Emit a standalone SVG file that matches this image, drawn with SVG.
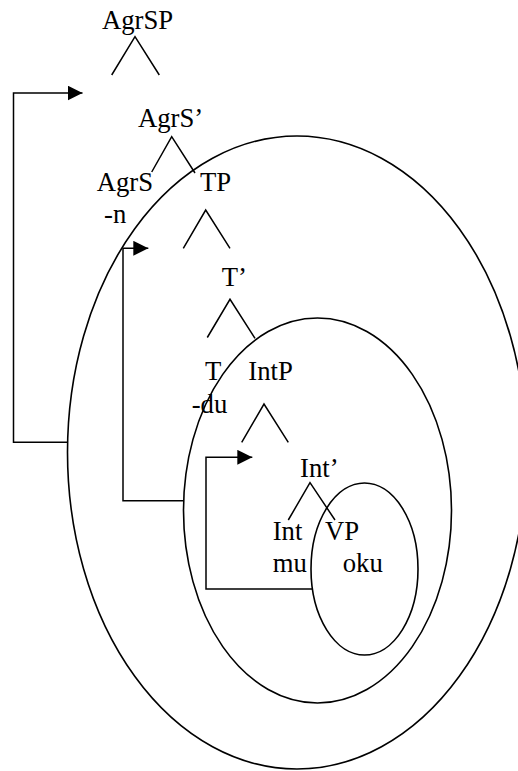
<svg xmlns="http://www.w3.org/2000/svg" width="518" height="771" viewBox="0 0 518 771">
<style>
text{font-family:"Liberation Serif","Times New Roman",serif;font-size:26.7px;fill:#000}
.ln{fill:none;stroke:#000;stroke-width:1.5}
.el{fill:none;stroke:#000;stroke-width:1.6}
</style>
<defs>
<marker id="ah" markerUnits="userSpaceOnUse" markerWidth="16" markerHeight="16" viewBox="0 0 16 16" refX="15" refY="7.5" orient="auto">
<path d="M0,0 L15,7.5 L0,15 Z" fill="#000"/>
</marker>
</defs>
<rect width="518" height="771" fill="#fff"/>
<g id="domains">
<ellipse id="ellipse-agrsp" class="el" cx="297" cy="452.5" rx="229.5" ry="316.5"/>
<ellipse id="ellipse-tp" class="el" cx="317.5" cy="510.5" rx="134" ry="192.5"/>
<ellipse id="ellipse-intp" class="el" cx="364.5" cy="569" rx="53.5" ry="86"/>
</g>
<g id="connectors">
<path class="ln" d="M111.7,75 L135,36.7 L159.3,75"/>
<path class="ln" d="M151.7,172 L171.7,136.7 L195,173"/>
<path class="ln" d="M183.3,248.3 L205.7,210 L230,248.3"/>
<path class="ln" d="M207.3,337.5 L230,299.3 L255,338.3"/>
<path class="ln" d="M241.7,442.3 L264,404 L288.3,442.3"/>
<path class="ln" d="M288.3,520 L310,482.7 L335,520"/>
<path class="ln" d="M67.6,442.3 H13.5 V93 H82.5" marker-end="url(#ah)"/>
<path class="ln" d="M183.5,500.7 H123 V248.3 H148.3" marker-end="url(#ah)"/>
<path class="ln" d="M312.5,589 H206 V457.3 H252.3" marker-end="url(#ah)"/>
</g>
<g id="AgrSP"><text x="102" y="29.3">AgrSP</text></g>
<g id="AgrS-bar"><text x="138" y="126.7">AgrS’</text></g>
<g id="AgrS"><text x="96.7" y="190.7">AgrS</text><text x="104" y="222.7">-n</text></g>
<g id="TP"><text x="200" y="190.7">TP</text></g>
<g id="T-bar"><text x="221.7" y="286">T’</text></g>
<g id="T"><text x="205" y="380">T</text><text x="191.7" y="412.7">-du</text></g>
<g id="IntP"><text x="248.3" y="380">IntP</text></g>
<g id="Int-bar"><text x="300" y="476.7">Int’</text></g>
<g id="Int"><text x="272.7" y="540">Int</text><text x="272.7" y="571.7">mu</text></g>
<g id="VP"><text x="325" y="540">VP</text><text x="342.7" y="571.7">oku</text></g>
</svg>
